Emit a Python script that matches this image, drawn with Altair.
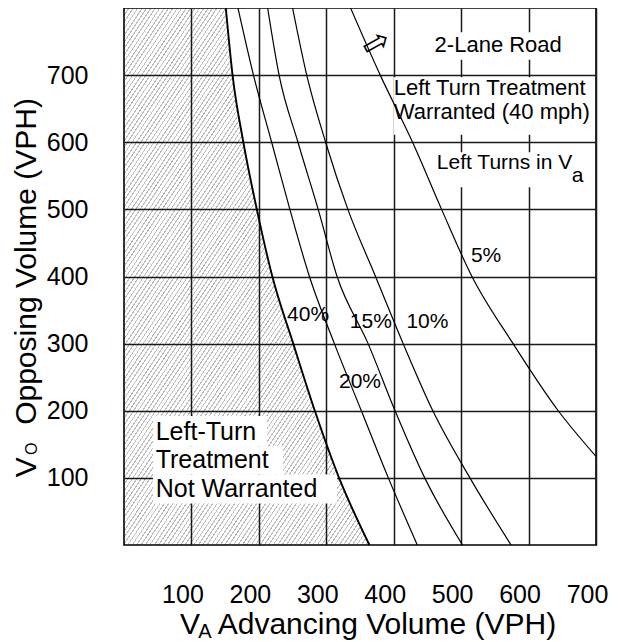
import altair as alt
import pandas as pd

# ---------------- data ----------------
# Opposing volume V_O (VPH) at which each curve is sampled
vo_levels = [800, 700, 600, 500, 400, 300, 200, 100, 0]
# Advancing volume V_A (VPH) of each curve at those V_O levels
va_40 = [151, 161, 177, 197, 220, 251, 283, 319, 364]
va_20 = [169, 192, 219, 246, 275, 312, 352, 392, 435]
va_15 = [213, 230, 258, 288, 316, 362, 402, 446, 502]
va_10 = [250, 271, 299, 332, 373, 414, 458, 513, 574]
# 5% curve leaves the chart through its right edge
va_5 = [336, 380, 428, 471, 516, 577, 644, 700]
vo_5 = [800, 700, 600, 500, 400, 300, 200, 132]

tick_values = [100, 200, 300, 400, 500, 600, 700]

pct_labels = ["40%", "15%", "10%", "20%", "5%"]
pct_label_va = [273, 366, 450, 350, 537]
pct_label_vo = [343, 332, 332, 243, 430]

nw_lines = ["Left-Turn", "Treatment", "Not Warranted"]
nw_va = [47, 47, 47]
nw_vo = [168, 126, 84]

w_lines = ["Left Turn Treatment", "Warranted (40 mph)"]
w_va = [400, 400]
w_vo = [681, 645]

road_text = ["2-Lane Road"]
road_va = [555]
road_vo = [745]

lt_text = ["Left Turns in V"]
lt_va = [464]
lt_vo = [569]
lt_sub = ["a"]
lt_sub_va = [664]
lt_sub_vo = [549]

arrow_text = ["\u21e8"]
arrow_va = [374]
arrow_vo = [747]

# white backgrounds behind the annotation texts (VPH units)
box_va = [43, 43, 43, 454, 400, 454]
box_va2 = [212, 236, 316, 658, 694, 691]
box_vo = [192, 147, 105, 764, 697, 585]
box_vo2 = [147, 105, 62, 723, 611, 533]

# axis titles (VPH units, they sit outside the plot)
xt_text = ["V", "A", "Advancing Volume (VPH)"]
xt_va = [83, 110, 139]
xt_vo = [-133, -139, -133]
yt_text = ["V", "O", "Opposing Volume (VPH)"]
yt_va = [-131, -129, -131]
yt_vo = [101, 134, 179]

# ---------------- tables ----------------
rows = []
for name, xs, ys in [("40%", va_40, vo_levels), ("20%", va_20, vo_levels),
                     ("15%", va_15, vo_levels), ("10%", va_10, vo_levels),
                     ("5%", va_5, vo_5)]:
    for a, b in zip(xs, ys):
        rows.append({"series": name, "va": a, "vo": b})
curves = pd.DataFrame(rows)
boundary = curves[curves.series == "40%"].sort_values("vo")
others = curves[curves.series != "40%"]

W_PLOT, H_PLOT = 472, 537
FONT = "Liberation Sans"

xscale = alt.Scale(domain=[0, 700], nice=False, zero=False)
yscale = alt.Scale(domain=[0, 800], nice=False, zero=False)
xaxis = alt.Axis(values=tick_values, grid=True, gridColor="#1a1a1a", gridWidth=1.5,
                 gridOpacity=1, ticks=False, domain=False, title=None,
                 labelFont=FONT, labelFontSize=25, labelColor="black",
                 labelPadding=37, labelOffset=-9, labelFlush=False, labelOverlap=False)
yaxis = alt.Axis(values=tick_values, grid=True, gridColor="#1a1a1a", gridWidth=1.5,
                 gridOpacity=1, ticks=False, domain=False, title=None,
                 labelFont=FONT, labelFontSize=25, labelColor="black",
                 labelPadding=36, labelFlush=False, labelOverlap=False)


def X(f):
    return alt.X(f, type="quantitative", scale=xscale, axis=xaxis)


def Y(f):
    return alt.Y(f, type="quantitative", scale=yscale, axis=yaxis)


# hatch drawn as a striped linear gradient ("/" stripes)
Wb = max(va_40) / 700 * W_PLOT
Hb = H_PLOT
T = 1.5          # slope of the hatch stripes
spacing = 4.4    # horizontal distance between stripes, px
s = (T * Wb + Hb) / (Wb ** 2 * T ** 2 + Hb ** 2)
n_stripes = int(round((T * Wb + Hb) / (T * spacing)))
gray = "rgba(0,0,0,0.26)"
clear = "rgba(0,0,0,0)"
stops = []
for k in range(n_stripes):
    o0 = k / n_stripes
    o1 = (k + 0.28) / n_stripes
    o2 = (k + 1) / n_stripes
    stops += [alt.GradientStop(offset=o0, color=gray), alt.GradientStop(offset=o1, color=gray),
              alt.GradientStop(offset=o1, color=clear), alt.GradientStop(offset=o2, color=clear)]
hatch = alt.LinearGradient(gradient="linear", stops=stops, x1=0, y1=0,
                           x2=s * Wb * T, y2=s * Hb)

area = alt.Chart(boundary).mark_area(orient="horizontal", interpolate="monotone",
                                     color=hatch, opacity=1).encode(x=X("va"), y=Y("vo"))

boxes_df = pd.DataFrame({"a": box_va, "a2": box_va2, "b": box_vo, "b2": box_vo2})
boxes = alt.Chart(boxes_df).mark_rect(color="white").encode(
    x=X("a"), x2=alt.X2("a2"), y=Y("b"), y2=alt.Y2("b2"))

line40 = alt.Chart(boundary).mark_line(orient="horizontal", interpolate="monotone",
                                       color="black", strokeWidth=1.9).encode(
    x=X("va"), y=Y("vo"), order=alt.Order("vo:Q"))
lines = alt.Chart(others).mark_line(orient="horizontal", interpolate="monotone",
                                    color="black", strokeWidth=1.2).encode(
    x=X("va"), y=Y("vo"), detail="series:N", order=alt.Order("vo:Q"))


def text_layer(texts, xs, ys, size, align="left", baseline="middle", angle=0, font=FONT):
    df = pd.DataFrame({"t": texts, "a": xs, "b": ys})
    return alt.Chart(df).mark_text(font=font, fontSize=size, align=align, baseline=baseline,
                                   angle=angle, color="black").encode(
        x=X("a"), y=Y("b"), text="t:N")


layers = [
    area, boxes, line40, lines,
    text_layer(pct_labels, pct_label_va, pct_label_vo, 21, align="center"),
    text_layer(nw_lines, nw_va, nw_vo, 25),
    text_layer(w_lines, w_va, w_vo, 22),
    text_layer(road_text, road_va, road_vo, 22, align="center"),
    text_layer(lt_text, lt_va, lt_vo, 21),
    text_layer(lt_sub, lt_sub_va, lt_sub_vo, 21),
    text_layer(arrow_text, arrow_va, arrow_vo, 33, align="center", angle=331, font="DejaVu Sans"),
    text_layer(xt_text[:1], xt_va[:1], xt_vo[:1], 30, baseline="alphabetic"),
    text_layer(xt_text[1:2], xt_va[1:2], xt_vo[1:2], 20, baseline="alphabetic"),
    text_layer(xt_text[2:], xt_va[2:], xt_vo[2:], 30, baseline="alphabetic"),
    text_layer(yt_text[:1], yt_va[:1], yt_vo[:1], 30, baseline="alphabetic", angle=270),
    text_layer(yt_text[1:2], yt_va[1:2], yt_vo[1:2], 16, baseline="alphabetic", angle=270),
    text_layer(yt_text[2:], yt_va[2:], yt_vo[2:], 30, baseline="alphabetic", angle=270),
]

chart = alt.layer(*layers).properties(
    width=W_PLOT, height=H_PLOT,
    padding={"left": 116, "top": 0, "right": 22, "bottom": 96},
    autosize=alt.AutoSizeParams(type="none"),
    background="white",
).configure_view(stroke="black", strokeWidth=1.6)

chart.save("out.html", embed_options={"renderer": "svg", "actions": False})
